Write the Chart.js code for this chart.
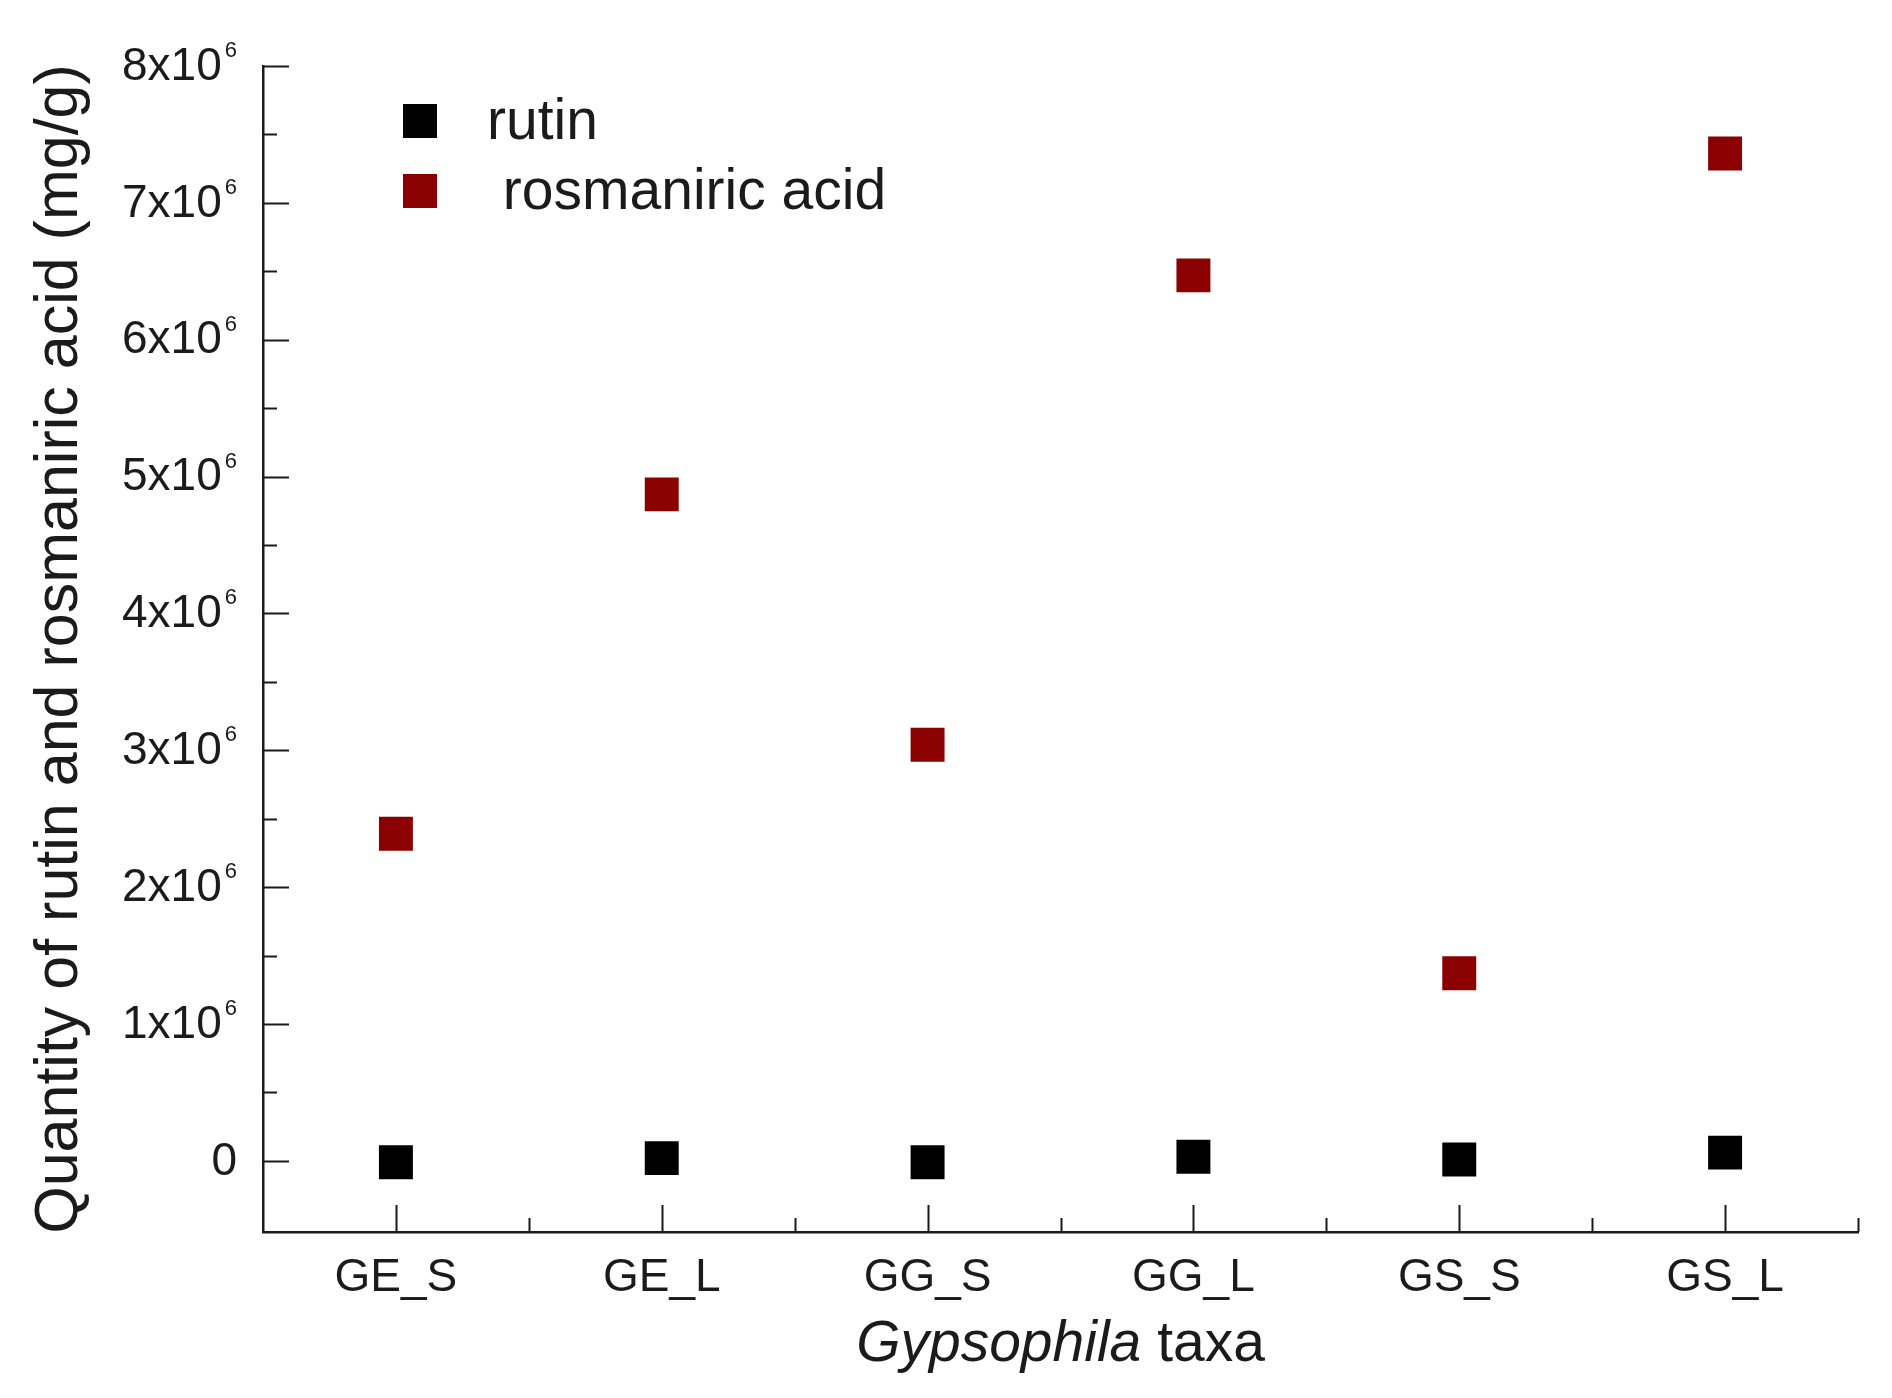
<!DOCTYPE html>
<html>
<head>
<meta charset="utf-8">
<script src="https://cdn.jsdelivr.net/npm/chart.js@4.4.1/dist/chart.umd.min.js"></script>
<style>
    html, body { margin: 0; padding: 0; background: #fff; }
    #wrap { width: 1892px; height: 1398px; }
</style>
</head>
<body>
<div id="wrap"><canvas id="chart"></canvas></div>
<script>
const taxa = ['GE_S', 'GE_L', 'GG_S', 'GG_L', 'GS_S', 'GS_L'];
const rutin = [-10000, 20000, -10000, 30000, 10000, 60000];
const rosmarinic = [2390000, 4870000, 3040000, 6470000, 1370000, 7360000];
const seriesNames = ['rutin', ' rosmaniric acid'];
const yTicks = [0, 1e6, 2e6, 3e6, 4e6, 5e6, 6e6, 7e6, 8e6];
const yTickLabels = ['0', '1x10^6', '2x10^6', '3x10^6', '4x10^6', '5x10^6', '6x10^6', '7x10^6', '8x10^6'];

const FONT = "'Liberation Sans', Arial, sans-serif";
const INK = '#1b1b1b';
const COLORS = {
    rutin: '#000000',
    rosmarinic: '#8b0000'
};

// inward ticks, major + minor, like the original plot
const innerTicks = {
    id: 'innerTicks',
    afterDraw(chart) {
        const { ctx, chartArea, scales: { x, y } } = chart;
        ctx.save();
        ctx.strokeStyle = INK;
        ctx.lineWidth = 2;
        ctx.beginPath();
        yTicks.forEach((v, i) => {
            const py = Math.round(y.getPixelForValue(v)) + 0.5;
            ctx.moveTo(chartArea.left, py);
            ctx.lineTo(chartArea.left + 26, py);
            if (i < yTicks.length - 1) {
                const my = Math.round(y.getPixelForValue((v + yTicks[i + 1]) / 2)) + 0.5;
                ctx.moveTo(chartArea.left, my);
                ctx.lineTo(chartArea.left + 14, my);
            }
        });
        taxa.forEach((t, i) => {
            const px = Math.round(x.getPixelForValue(i)) + 0.5;
            ctx.moveTo(px, chartArea.bottom);
            ctx.lineTo(px, chartArea.bottom - 27);
            const mx = Math.round(x.getPixelForValue(i + 0.5)) + 0.5;
            ctx.moveTo(mx, chartArea.bottom);
            ctx.lineTo(mx, chartArea.bottom - 14);
        });
        ctx.stroke();
        ctx.restore();
    }
};

// y labels with a real superscript exponent
const yLabels = {
    id: 'yLabels',
    afterDraw(chart) {
        const { ctx, chartArea, scales: { y } } = chart;
        const right = chartArea.left - 26;
        ctx.save();
        ctx.fillStyle = INK;
        yTicks.forEach((v, i) => {
            const [base, exp] = yTickLabels[i].split('^');
            const py = y.getPixelForValue(v);
            ctx.font = `22px ${FONT}`;
            const ws = exp ? ctx.measureText(exp).width + 3 : 0;
            ctx.font = `46px ${FONT}`;
            ctx.textAlign = 'right';
            ctx.textBaseline = 'middle';
            ctx.fillText(base, right - ws, py + 1);
            if (exp) {
                ctx.font = `22px ${FONT}`;
                ctx.textAlign = 'left';
                ctx.textBaseline = 'alphabetic';
                ctx.fillText(exp, right - ws + 3, py - 9);
            }
        });
        ctx.restore();
    }
};

// legend sits inside the plot, top left
const insideLegend = {
    id: 'insideLegend',
    afterDraw(chart) {
        const { ctx, chartArea } = chart;
        const side = 34;
        const cx = chartArea.left + 157;
        ctx.save();
        ctx.font = `57px ${FONT}`;
        ctx.textBaseline = 'middle';
        ctx.textAlign = 'left';
        chart.data.datasets.forEach((ds, i) => {
            const cy = chartArea.top + 55 + i * 70;
            ctx.fillStyle = ds.pointBackgroundColor;
            ctx.fillRect(cx - side / 2, cy - side / 2, side, side);
            ctx.fillStyle = INK;
            ctx.fillText(ds.label, cx + 67, cy + 2);
        });
        ctx.restore();
    }
};

// x title: genus in italics
const xTitle = {
    id: 'xTitle',
    afterDraw(chart) {
        const { ctx, chartArea } = chart;
        const size = 57;
        const italic = `italic ${size}px ${FONT}`;
        const normal = `${size}px ${FONT}`;
        ctx.save();
        ctx.font = italic;
        const w1 = ctx.measureText('Gypsophila').width;
        ctx.font = normal;
        const w2 = ctx.measureText(' taxa').width;
        const startX = (chartArea.left + chartArea.right) / 2 - (w1 + w2) / 2;
        const cy = chartArea.bottom + 113;
        ctx.fillStyle = INK;
        ctx.textBaseline = 'middle';
        ctx.textAlign = 'left';
        ctx.font = italic;
        ctx.fillText('Gypsophila', startX, cy);
        ctx.font = normal;
        ctx.fillText(' taxa', startX + w1, cy);
        ctx.restore();
    }
};

const ctx = document.getElementById('chart').getContext('2d');

new Chart(ctx, {
    type: 'line',
    data: {
        labels: taxa,
        datasets: [{
            label: seriesNames[0],
            data: rutin,
            showLine: false,
            pointStyle: 'rect',
            pointRadius: 24,
            pointHoverRadius: 24,
            pointBorderWidth: 0,
            pointBackgroundColor: COLORS.rutin,
            borderColor: COLORS.rutin
        }, {
            label: seriesNames[1],
            data: rosmarinic,
            showLine: false,
            pointStyle: 'rect',
            pointRadius: 24,
            pointHoverRadius: 24,
            pointBorderWidth: 0,
            pointBackgroundColor: COLORS.rosmarinic,
            borderColor: COLORS.rosmarinic
        }]
    },
    options: {
        responsive: true,
        maintainAspectRatio: false,
        animation: false,
        layout: { padding: { left: 0, right: 34, top: 66, bottom: 0 } },
        plugins: {
            legend: { display: false },
            tooltip: { enabled: false }
        },
        scales: {
            x: {
                type: 'category',
                offset: true,
                afterFit: (axis) => { axis.height = 166; },
                grid: { display: true, drawOnChartArea: false, drawTicks: false },
                border: { display: true, color: INK, width: 2.5 },
                ticks: {
                    color: INK,
                    padding: 19,
                    font: { family: FONT, size: 46 }
                }
            },
            y: {
                min: -520000,
                max: 8000000,
                afterBuildTicks: (axis) => { axis.ticks = yTicks.map(v => ({ value: v })); },
                afterFit: (axis) => { axis.width = 263; },
                grid: { display: true, drawOnChartArea: false, drawTicks: false },
                border: { display: true, color: INK, width: 2.5 },
                ticks: { display: false },
                title: {
                    display: true,
                    text: 'Quantity of rutin and rosmaniric acid (mg/g)',
                    color: INK,
                    font: { family: FONT, size: 61 },
                    padding: { top: 24, bottom: 0 }
                }
            }
        }
    },
    plugins: [innerTicks, yLabels, insideLegend, xTitle]
});
</script>
</body>
</html>
